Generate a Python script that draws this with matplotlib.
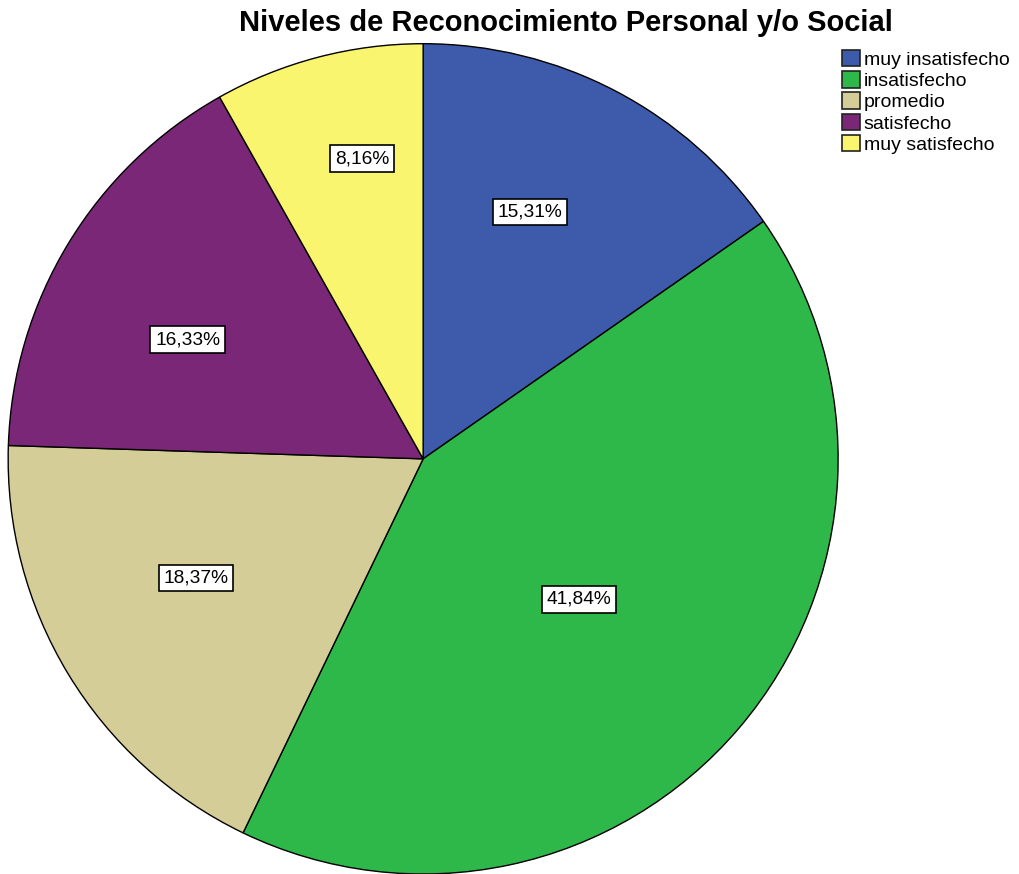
import numpy as np
import matplotlib.pyplot as plt
from matplotlib.patches import Patch

plt.rcParams["font.family"] = ["Liberation Sans", "DejaVu Sans"]

categorias = ["muy insatisfecho", "insatisfecho", "promedio", "satisfecho", "muy satisfecho"]
porcentajes = [15.31, 41.84, 18.37, 16.33, 8.16]
colores = ["#3D5AAB", "#2FB84A", "#D5CD98", "#7B2777", "#FAF56F"]
# label placement: fraction of radius and angular nudge (deg) from wedge middle
dist_etiqueta = [0.648, 0.506, 0.618, 0.636, 0.738]
giro_etiqueta = [4.2, -1.6, -3.5, 4.4, -3.2]

fig = plt.figure(figsize=(10.19, 8.74), dpi=100)
ax = fig.add_axes([0.008, 0.0, 0.8145, 0.95])

wedges, _ = ax.pie(porcentajes, colors=colores, startangle=90, counterclock=False,
                   wedgeprops=dict(edgecolor="black", linewidth=1.0))

for w, p, d, g in zip(wedges, porcentajes, dist_etiqueta, giro_etiqueta):
    ang = np.deg2rad((w.theta1 + w.theta2) / 2 + g)
    ax.text(d * np.cos(ang), d * np.sin(ang), f"{p:.2f}%".replace(".", ","),
            ha="center", va="center", fontsize=13.8,
            bbox=dict(boxstyle="square,pad=0.25", facecolor="white", edgecolor="black", linewidth=1.2))

ax.set_xlim(-1, 1)
ax.set_ylim(-1, 1)
ax.set_aspect("auto")

fig.text(0.555, 0.974, "Niveles de Reconocimiento Personal y/o Social",
         ha="center", va="center", fontsize=21, fontweight="bold")

handles = [Patch(facecolor=c, edgecolor="#222222", linewidth=1.2) for c in colores]
fig.legend(handles, categorias, loc="upper left", bbox_to_anchor=(0.826, 0.943),
           frameon=False, fontsize=14, handlelength=0.93, handleheight=0.93,
           handletextpad=0.2, labelspacing=0.12, borderaxespad=0, borderpad=0)

fig.savefig("out.png", dpi=100)
